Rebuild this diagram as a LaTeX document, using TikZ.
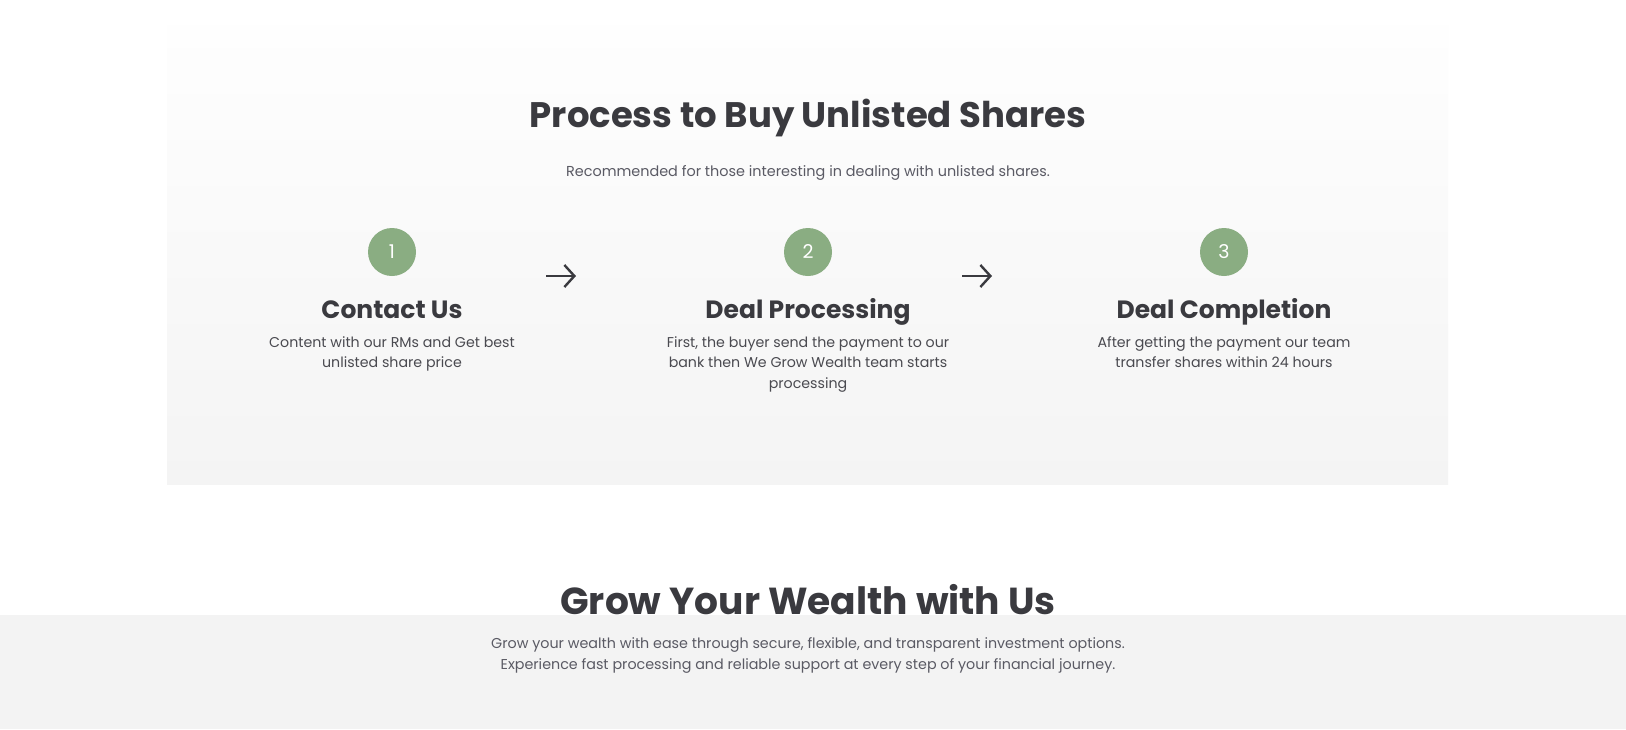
\documentclass[tikz,border=0pt]{standalone}
\usepackage{fontspec}
\setmainfont{Poppins}
\usetikzlibrary{arrows.meta}
\definecolor{ink}{HTML}{3A3A3F}
\definecolor{body}{HTML}{4A4A50}
\definecolor{sub}{HTML}{5A5A64}
\definecolor{stepgreen}{HTML}{8AAD82}
\definecolor{panelTop}{HTML}{FEFEFE}
\definecolor{panelBot}{HTML}{F4F4F4}
\definecolor{band}{HTML}{F3F3F3}
\begin{document}
\begin{tikzpicture}[x=1pt,y=-1pt,
  title/.style={font=\fontsize{35.5}{40}\selectfont\bfseries, text=ink, inner sep=0pt},
  subtitle/.style={font=\fontsize{14.4}{20}\selectfont, text=sub, inner sep=0pt},
  badge/.style={circle, fill=stepgreen, minimum size=48pt, inner sep=0pt, text=white, font=\fontsize{19}{20}\selectfont},
  heading/.style={font=\fontsize{25}{28}\selectfont\bfseries, text=ink, inner sep=0pt, anchor=base},
  desc/.style={font=\fontsize{14.2}{20.5}\selectfont, text=body, align=center, inner sep=0pt},
  flow/.style={draw=ink, line width=2.4pt, -{Straight Barb[length=10pt,width=22pt,line width=2.4pt]}}
]
\useasboundingbox (0,0) rectangle (1626,729);
\fill[white] (0,0) rectangle (1626,729);
% panel
\shade[top color=panelTop, bottom color=panelBot] (167,25) rectangle (1448,484);
% bottom band
\fill[band] (0,615) rectangle (1626,729);

\node[title] (t1) at (808,118) {Process to Buy Unlisted Shares};
\node[subtitle] (s1) at (808,173) {Recommended for those interesting in dealing with unlisted shares.};

\node[badge] (b1) at (392,252) {1};
\node[badge] (b2) at (808,252) {2};
\node[badge] (b3) at (1224,252) {3};

\coordinate (a1s) at (546,276);
\coordinate (a1e) at (576,276);
\coordinate (a2s) at (962,276);
\coordinate (a2e) at (992,276);
\draw[flow] (a1s) -- (a1e);
\draw[flow] (a2s) -- (a2e);

\node[heading] (h1) at (392,318) {Contact Us};
\node[heading] (h2) at (808,318) {Deal Processing};
\node[heading] (h3) at (1224,318) {Deal Completion};

\node[desc, anchor=north] (d1) at (392,336) {Content with our RMs and Get best\\unlisted share price};
\node[desc, anchor=north] (d2) at (808,336) {First, the buyer send the payment to our\\bank then We Grow Wealth team starts\\processing};
\node[desc, anchor=north] (d3) at (1224,336) {After getting the payment our team\\transfer shares within 24 hours};

\node[title, font=\fontsize{37.6}{40}\selectfont\bfseries, anchor=base] (t2) at (808,614) {Grow Your Wealth with Us};
\node[desc, text=sub, font=\fontsize{14.3}{21.3}\selectfont, anchor=north] (s2) at (808,637) {Grow your wealth with ease through secure, flexible, and transparent investment options.\\Experience fast processing and reliable support at every step of your financial journey.};
\end{tikzpicture}
\end{document}
